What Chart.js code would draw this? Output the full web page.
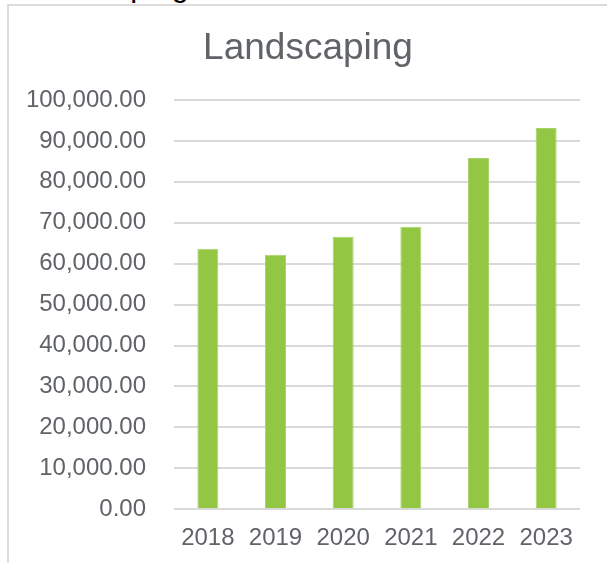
<!DOCTYPE html>
<html>
<head>
<meta charset="utf-8">
<script src="https://cdn.jsdelivr.net/npm/chart.js@4/dist/chart.umd.min.js"></script>
<style>
  html, body { margin: 0; padding: 0; background: #fff; overflow: hidden; }
  #wrap { position: relative; width: 607px; height: 563px; overflow: hidden; }
  #frame { position: absolute; left: 7px; top: 4px; width: 800px; height: 800px;
           border-left: 2px solid #dcdcdc; border-top: 2px solid #dcdcdc; }
  #cut { position: absolute; left: 13px; top: -30px; font: 31px/31px "Liberation Sans", Arial, sans-serif;
         color: #000; white-space: nowrap; }
  #box { position: absolute; left: 0; top: 0; width: 607px; height: 563px; }
</style>
</head>
<body>
<div id="wrap">
  <div id="cut">Landscaping</div>
  <div id="frame"></div>
  <div id="box"><canvas id="barChart"></canvas></div>
</div>
<script>
// chart data
var years = ['2018', '2019', '2020', '2021', '2022', '2023'];
var amounts = [63650, 62200, 66600, 69050, 85850, 93150];
var yTicks = [0, 10000, 20000, 30000, 40000, 50000, 60000, 70000, 80000, 90000, 100000];

var textGray = '#606368';
var gridGray = '#d9d9d9';

// nudge the title a bit right, like the original sheet chart
var titleShift = {
    id: 'titleShift',
    afterLayout: function (chart) {
        if (chart.titleBlock) {
            chart.titleBlock.left += 18;
            chart.titleBlock.right += 18;
        }
    }
};

var barCtx = document.getElementById('barChart').getContext('2d');

new Chart(barCtx, {
    type: 'bar',
    data: {
        labels: years,
        datasets: [{
            label: 'Landscaping',
            data: amounts,
            backgroundColor: '#93c642',
            borderColor: '#a8d36c',
            borderWidth: 1,
            categoryPercentage: 1,
            barPercentage: 0.31
        }]
    },
    options: {
        responsive: true,
        maintainAspectRatio: false,
        animation: false,
        layout: {
            padding: { left: 0, right: 27, top: 0, bottom: 3 }
        },
        plugins: {
            legend: { display: false },
            tooltip: { enabled: false },
            title: {
                display: true,
                text: 'Landscaping',
                color: textGray,
                font: { family: 'Liberation Sans', size: 37, weight: 'normal' },
                padding: { top: 27, bottom: 28.6 }
            }
        },
        scales: {
            x: {
                grid: { display: false },
                border: { display: false },
                ticks: {
                    color: textGray,
                    padding: 7,
                    font: { family: 'Liberation Sans', size: 24 }
                }
            },
            y: {
                min: 0,
                max: 100000,
                afterBuildTicks: function (axis) {
                    axis.ticks = yTicks.map(function (v) { return { value: v }; });
                },
                afterFit: function (axis) {
                    axis.width = 174;
                },
                grid: { color: gridGray, lineWidth: 2, drawTicks: false },
                border: { display: false },
                ticks: {
                    color: textGray,
                    padding: 28,
                    font: { family: 'Liberation Sans', size: 24 },
                    callback: function (value) {
                        return value.toLocaleString('en-US', { minimumFractionDigits: 2, maximumFractionDigits: 2 });
                    }
                }
            }
        }
    },
    plugins: [titleShift]
});
</script>
</body>
</html>
